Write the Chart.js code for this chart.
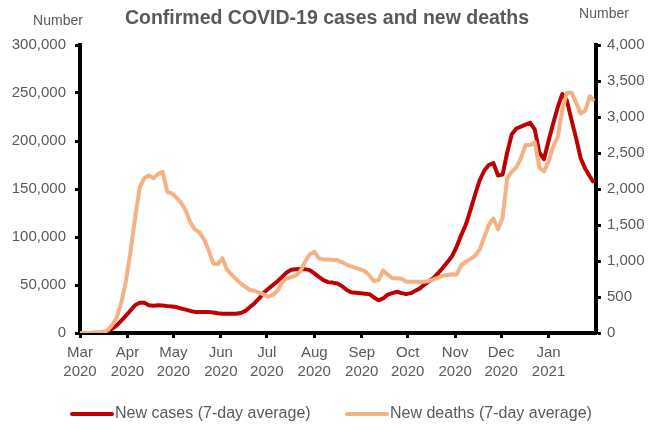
<!DOCTYPE html>
<html>
<head>
<meta charset="utf-8">
<title>Confirmed COVID-19 cases and new deaths</title>
<script src="https://cdn.jsdelivr.net/npm/chart.js@4.4.1/dist/chart.umd.min.js"></script>
<style>
  html, body { margin: 0; padding: 0; background: #fff; }
  #wrap { width: 654px; height: 430px; }
</style>
</head>
<body>
<div id="wrap"><canvas id="myChart" width="654" height="430"></canvas></div>
<script>
// sample dates (every 3 days from 1 Mar 2020)
const dates = [
  '2020-03-01', '2020-03-04', '2020-03-07', '2020-03-10', '2020-03-13', '2020-03-16', '2020-03-19', '2020-03-22', '2020-03-25', '2020-03-28', '2020-03-31',
  '2020-04-03', '2020-04-06', '2020-04-09', '2020-04-12', '2020-04-15', '2020-04-18', '2020-04-21', '2020-04-24', '2020-04-27', '2020-04-30',
  '2020-05-03', '2020-05-06', '2020-05-09', '2020-05-12', '2020-05-15', '2020-05-18', '2020-05-21', '2020-05-24', '2020-05-27', '2020-05-30',
  '2020-06-02', '2020-06-05', '2020-06-08', '2020-06-11', '2020-06-14', '2020-06-17', '2020-06-20', '2020-06-23', '2020-06-26', '2020-06-29',
  '2020-07-02', '2020-07-05', '2020-07-08', '2020-07-11', '2020-07-14', '2020-07-17', '2020-07-20', '2020-07-23', '2020-07-26', '2020-07-29',
  '2020-08-01', '2020-08-04', '2020-08-07', '2020-08-10', '2020-08-13', '2020-08-16', '2020-08-19', '2020-08-22', '2020-08-25', '2020-08-28', '2020-08-31',
  '2020-09-03', '2020-09-06', '2020-09-09', '2020-09-12', '2020-09-15', '2020-09-18', '2020-09-21', '2020-09-24', '2020-09-27', '2020-09-30',
  '2020-10-03', '2020-10-06', '2020-10-09', '2020-10-12', '2020-10-15', '2020-10-18', '2020-10-21', '2020-10-24', '2020-10-27', '2020-10-30',
  '2020-11-02', '2020-11-05', '2020-11-08', '2020-11-11', '2020-11-14', '2020-11-17', '2020-11-20', '2020-11-23', '2020-11-26', '2020-11-29',
  '2020-12-02', '2020-12-05', '2020-12-08', '2020-12-11', '2020-12-14', '2020-12-17', '2020-12-20', '2020-12-23', '2020-12-26', '2020-12-29',
  '2021-01-01', '2021-01-04', '2021-01-07', '2021-01-10', '2021-01-13', '2021-01-16', '2021-01-19', '2021-01-22', '2021-01-25', '2021-01-28', '2021-01-30'
];

// new cases, 7-day average
const cases = [
  0, 0, 0, 200, 300, 500, 1500, 4500, 8000, 13000, 18000,
  23500, 29000, 31600, 31500, 29000, 28500, 28800, 28600, 28000, 27500,
  27000, 25500, 24300, 23000, 22000, 22000, 22000, 22000, 21300, 20500,
  20000, 20000, 20000, 20000, 20800, 23000, 27000, 31000, 36000, 42000,
  46000, 50000, 54000, 58500, 63000, 66000, 66500, 66700, 66500, 65500,
  62000, 58500, 55000, 53000, 52500, 51500, 49000, 45000, 42500, 42000, 41500,
  41000, 40500, 37000, 34000, 36000, 40000, 41500, 43000, 41500, 40500,
  41500, 44000, 46500, 50500, 54000, 57500, 62500, 68000, 74000, 80000,
  90000, 102000, 113000, 128000, 144000, 159000, 169000, 175000, 177000, 164000,
  165000, 188000, 207000, 213000, 215000, 217000, 219000, 212000, 188000, 181000,
  200000, 218000, 235000, 249000, 242000, 222000, 203000, 182000, 171000, 163000, 158000
];

// new deaths, 7-day average
const deaths = [
  0, 0, 0, 0, 0, 5, 40, 110, 215, 420, 720,
  1130, 1600, 2020, 2150, 2190, 2150, 2210, 2240, 1960, 1940,
  1880, 1810, 1700, 1540, 1440, 1400, 1300, 1150, 965, 955,
  1040, 880, 810, 750, 685, 640, 597, 587, 560, 535,
  505, 528, 590, 700, 760, 775, 800, 860, 990, 1090,
  1130, 1035, 1025, 1022, 1014, 1014, 985, 950, 925, 905, 885,
  860, 800, 720, 736, 870, 810, 760, 760, 755, 713,
  713, 713, 713, 713, 725, 745, 770, 795, 805, 815,
  810, 940, 990, 1030, 1070, 1160, 1330, 1500, 1590, 1440,
  1600, 2150, 2240, 2300, 2430, 2610, 2610, 2650, 2300, 2245,
  2380, 2590, 2720, 3100, 3338, 3338, 3200, 3050, 3090, 3290, 3240
];

const monthStarts = [
  '2020-03-01', '2020-04-01', '2020-05-01', '2020-06-01', '2020-07-01', '2020-08-01',
  '2020-09-01', '2020-10-01', '2020-11-01', '2020-12-01', '2021-01-01'
];
const monthLabels = [
  ['Mar', '2020'], ['Apr', '2020'], ['May', '2020'], ['Jun', '2020'], ['Jul', '2020'], ['Aug', '2020'],
  ['Sep', '2020'], ['Oct', '2020'], ['Nov', '2020'], ['Dec', '2020'], ['Jan', '2021']
];

const START = '2020-03-01';
const END = '2021-02-01';

function dayOf(d) {
  return (Date.parse(d) - Date.parse(START)) / 86400000;
}

const grey = '#595959';
const FONT = '"Liberation Sans", Arial, sans-serif';
Chart.defaults.font.family = FONT;
Chart.defaults.font.size = 15;
Chart.defaults.color = grey;

// "Number" captions above each axis, and the legend row along the bottom
const extras = {
  id: 'extras',
  afterDraw(chart) {
    const ctx = chart.ctx;
    const area = chart.chartArea;
    ctx.save();
    ctx.font = '14px ' + FONT;
    ctx.fillStyle = grey;
    ctx.textBaseline = 'middle';
    ctx.textAlign = 'center';
    ctx.fillText('Number', area.left - 22, 21);
    ctx.fillText('Number', area.right + 8, 14);

    const legendY = 414;
    const legendX = [70, 345];
    ctx.font = '16px ' + FONT;
    ctx.textAlign = 'left';
    chart.data.datasets.forEach((ds, i) => {
      const x = legendX[i];
      ctx.strokeStyle = ds.borderColor;
      ctx.lineWidth = ds.borderWidth;
      ctx.lineCap = 'round';
      ctx.beginPath();
      ctx.moveTo(x + 2, legendY);
      ctx.lineTo(x + 42, legendY);
      ctx.stroke();
      ctx.fillStyle = grey;
      ctx.fillText(ds.label, x + 45, legendY);
    });
    ctx.restore();
  }
};

const axisLine = { display: true, color: '#000', width: 4 };
const tickGrid = { drawOnChartArea: false, drawTicks: true, tickLength: 5, tickWidth: 3, tickColor: '#000', color: '#000' };

const data = {
  datasets: [{
    label: 'New cases (7-day average)',
    data: dates.map((d, i) => ({ x: dayOf(d), y: cases[i] })),
    borderColor: '#C00000',
    backgroundColor: '#C00000',
    borderWidth: 4,
    borderCapStyle: 'round',
    borderJoinStyle: 'round',
    pointRadius: 0,
    tension: 0,
    yAxisID: 'y',
    order: 2
  }, {
    label: 'New deaths (7-day average)',
    data: dates.map((d, i) => ({ x: dayOf(d), y: deaths[i] })),
    borderColor: '#F4B183',
    backgroundColor: '#F4B183',
    borderWidth: 4,
    borderCapStyle: 'round',
    borderJoinStyle: 'round',
    pointRadius: 0,
    tension: 0,
    yAxisID: 'y1',
    order: 1
  }]
};

const config = {
  type: 'line',
  data: data,
  options: {
    responsive: false,
    animation: false,
    layout: { padding: 0 },
    plugins: {
      title: {
        display: true,
        text: 'Confirmed COVID-19 cases and new deaths',
        color: grey,
        font: { size: 19.5, weight: 'bold' },
        padding: { top: 7, bottom: 14.6 }
      },
      legend: { display: false },
      tooltip: { enabled: false }
    },
    scales: {
      x: {
        type: 'linear',
        min: 0,
        max: dayOf(END),
        border: axisLine,
        grid: tickGrid,
        afterBuildTicks(scale) {
          scale.ticks = monthStarts.map(m => ({ value: dayOf(m) }));
        },
        afterFit(scale) { scale.height = 97; },
        ticks: {
          autoSkip: false,
          maxRotation: 0,
          padding: 5,
          font: { size: 15, lineHeight: 1.27 },
          callback: (v, i) => monthLabels[i]
        }
      },
      y: {
        position: 'left',
        min: 0,
        max: 300000,
        border: axisLine,
        grid: tickGrid,
        afterFit(scale) { scale.width = 80; },
        ticks: {
          stepSize: 50000,
          padding: 9,
          callback: v => v.toLocaleString('en-US')
        }
      },
      y1: {
        position: 'right',
        min: 0,
        max: 4000,
        border: axisLine,
        grid: tickGrid,
        afterFit(scale) { scale.width = 58; },
        ticks: {
          stepSize: 500,
          padding: 6,
          callback: v => v.toLocaleString('en-US')
        }
      }
    }
  },
  plugins: [extras]
};

const myChart = new Chart(
  document.getElementById('myChart'),
  config
);
</script>
</body>
</html>
